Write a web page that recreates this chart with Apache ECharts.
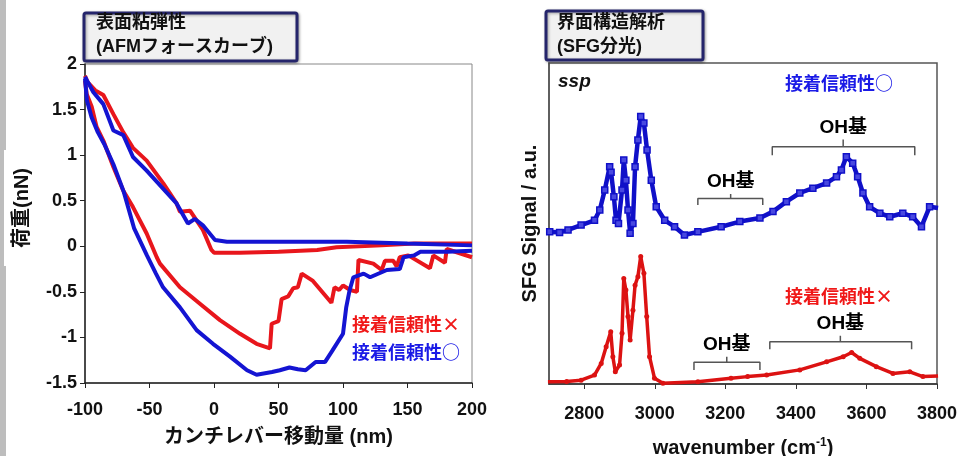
<!DOCTYPE html>
<html><head><meta charset="utf-8">
<script src="https://cdn.jsdelivr.net/npm/echarts@6/dist/echarts.min.js"></script>
<style>html,body{margin:0;padding:0;background:#fff}#c{width:964px;height:456px}</style>
</head><body><div id="c"></div>
<script>
// ---------- Left: AFM force curves (x: nm, y: nN) ----------
const afmXTicks = [-100, -50, 0, 50, 100, 150, 200];
const afmRedApproach = [[-100,1.87],[-98,1.8],[-92,1.71],[-85.8,1.66],[-78,1.45],[-70.3,1.25],[-62.8,1.08],[-52.2,0.94],[-39.3,0.69],[-29,0.47],[-26.4,0.38],[-18.6,0.39],[-8.6,0.18],[-2,-0.04],[0,-0.07],[20,-0.07],[50,-0.06],[80,-0.04],[95,-0.01],[130,0.01],[155,0.03],[200,0.03]];
const afmBlueApproach = [[-100,1.86],[-98.5,1.82],[-93.5,1.69],[-85.8,1.56],[-78,1.27],[-70.3,1.22],[-62.8,0.98],[-52.2,0.83],[-39.3,0.63],[-29,0.47],[-20.2,0.25],[-14.8,0.3],[-8.6,0.23],[0.8,0.07],[10,0.05],[50,0.05],[103,0.05],[150,0.03],[200,0.01]];
const afmRedRetract = [[-100,1.82],[-98.7,1.67],[-94.8,1.53],[-91,1.31],[-85.8,1.16],[-78,0.87],[-70.3,0.61],[-62.8,0.43],[-52.2,0.14],[-44.4,-0.12],[-41.9,-0.19],[-26.4,-0.45],[-10.9,-0.63],[4.6,-0.81],[20.2,-0.96],[33,-1.07],[43.4,-1.12],[44.7,-0.85],[50,-0.82],[52.4,-0.58],[57.5,-0.55],[61.4,-0.46],[65,-0.45],[68,-0.3],[76.7,-0.38],[91,-0.62],[93.4,-0.45],[97,-0.48],[100,-0.43],[105.6,-0.48],[110.8,-0.5],[112,-0.15],[123.5,-0.19],[130,-0.26],[132.5,-0.16],[139,-0.16],[141.6,-0.22],[144,-0.12],[150.6,-0.1],[167.4,-0.24],[170,-0.1],[179,-0.18],[180.4,-0.03],[200,-0.12]];
const afmBlueRetract = [[-100,1.84],[-98.5,1.6],[-95,1.42],[-90,1.25],[-85,1.12],[-78,0.9],[-70,0.6],[-62,0.2],[-52,-0.1],[-45,-0.3],[-39.5,-0.45],[-26.4,-0.67],[-13.5,-0.92],[-0.8,-1.07],[12.4,-1.21],[25.6,-1.36],[33,-1.41],[45,-1.38],[51,-1.36],[58.5,-1.33],[65,-1.35],[71,-1.36],[78.8,-1.27],[86,-1.27],[92,-1.14],[100,-0.96],[102.5,-0.67],[105,-0.49],[108,-0.34],[116,-0.3],[121,-0.34],[134,-0.26],[144,-0.25],[147,-0.12],[155,-0.1],[160,-0.06],[181,-0.06],[200,-0.05]];

// ---------- Right: SFG spectra (x: cm-1, y: a.u., offset) ----------
const sfgXTicks = [2800, 3000, 3200, 3400, 3600, 3800];
const sfgBlue = [[2702,4.74],[2730,4.72],[2754,4.8],[2791,4.95],[2829,5.1],[2844,5.42],[2858,6.04],[2872,6.77],[2876,6.6],[2884,5.83],[2890,5.1],[2897,5.0],[2907,6.04],[2912,6.98],[2918,6.35],[2924,5.42],[2930,4.7],[2938,5.0],[2944,6.77],[2952,7.6],[2960,8.33],[2969,8.13],[2978,7.29],[2990,6.35],[3004,5.52],[3028,5.1],[3056,4.9],[3084,4.64],[3122,4.74],[3188,4.9],[3241,5.06],[3298,5.17],[3335,5.37],[3373,5.68],[3411,5.95],[3448,6.1],[3487,6.26],[3515,6.46],[3529,6.67],[3543,7.08],[3561,6.88],[3575,6.46],[3590,5.95],[3609,5.52],[3638,5.32],[3666,5.21],[3703,5.32],[3731,5.21],[3756,4.9],[3779,5.52],[3803,5.48]];
const sfgRed = [[2697,0.07],[2750,0.08],[2791,0.12],[2829,0.28],[2848,0.64],[2862,1.16],[2875,1.63],[2881,0.85],[2888,0.38],[2900,0.59],[2907,1.58],[2912,3.29],[2918,2.93],[2924,2.1],[2930,1.37],[2938,2.3],[2944,3.08],[2952,3.34],[2960,3.97],[2969,3.45],[2977,2.1],[2985,0.85],[2999,0.18],[3023,0.02],[3122,0.07],[3216,0.18],[3263,0.23],[3317,0.28],[3411,0.44],[3487,0.69],[3534,0.85],[3558,0.98],[3581,0.8],[3628,0.54],[3675,0.33],[3723,0.38],[3760,0.23],[3803,0.25]];

// OH-group bracket annotations: [from, center, to, lineLevel, tipLevel, tickTop]
const bracketBlue1 = [3122, 3215, 3306, 5.78, 5.58, 5.92];
const bracketBlue2 = [3333, 3534, 3737, 7.39, 7.13, 7.62];
const bracketRed1  = [3111, 3204, 3298, 0.68, 0.44, 0.85];
const bracketRed2  = [3326, 3526, 3728, 1.32, 1.08, 1.5];
const bracketLabel = 'OH基';

function bracketPath(b){
  return [[b[0],b[4]],[b[0],b[3]],[b[1],b[3]],[b[1],b[5]],[b[1],b[3]],[b[2],b[3]],[b[2],b[4]]];
}

const RED = '#e8161c', BLUE = '#1414d2', RED2 = '#dc1212', BLUE2 = '#1010c8';
const tickFont = {fontFamily:'Liberation Sans, Arial, sans-serif', fontWeight:'bold', fontSize:18, color:'#111'};
const nameFont = {fontFamily:'Liberation Sans, "Noto Sans CJK JP", sans-serif', fontWeight:'bold', fontSize:20, color:'#111'};
const plain = v => String(v);

const chart = echarts.init(document.getElementById('c'), null, {renderer:'canvas'});
const bracketSeries = [bracketBlue1, bracketBlue2, bracketRed1, bracketRed2].map(b => ({
  type:'line', xAxisIndex:1, yAxisIndex:1, data: bracketPath(b), showSymbol:false, silent:true,
  lineStyle:{color:'#555', width:1.5}, z:3, animation:false
}));
const bracketLabelSeries = {
  type:'scatter', xAxisIndex:1, yAxisIndex:1, symbolSize:1, silent:true, animation:false,
  itemStyle:{color:'rgba(0,0,0,0)'},
  data:[bracketBlue1, bracketBlue2, bracketRed1, bracketRed2].map(b => [b[1], b[5]]),
  label:{show:true, position:'top', distance:2, formatter:bracketLabel, opacity:1, textBorderWidth:0,
    fontFamily:'Liberation Sans, "Noto Sans CJK JP", sans-serif', fontWeight:'bold', fontSize:19, color:'#000'},
  z:6
};

chart.setOption({
  animation:false,
  backgroundColor:'#fff',
  grid:[
    {left:85, right:492, top:64, bottom:73, containLabel:false, outerBoundsMode:'none', show:true, borderColor:'#888', borderWidth:1},
    {left:549, right:27, top:63, bottom:72, containLabel:false, outerBoundsMode:'none', show:true, borderColor:'#555', borderWidth:1.5}
  ],
  xAxis:[
    {gridIndex:0, type:'value', min:-100, max:200, interval:50,
     axisLine:{show:true, onZero:false, lineStyle:{color:'#222', width:1.5}},
     axisTick:{show:true, length:5, lineStyle:{color:'#222'}},
     axisLabel:Object.assign({margin:18, formatter:plain}, tickFont), splitLine:{show:false},
     name:'カンチレバー移動量 (nm)', nameLocation:'middle', nameGap:44, nameTextStyle:nameFont},
    {gridIndex:1, type:'value', min:2700, max:3800,
     axisLine:{show:true, onZero:false, lineStyle:{color:'#333', width:1.5}},
     axisTick:{show:true, length:5, customValues:sfgXTicks, lineStyle:{color:'#333'}},
     axisLabel:Object.assign({margin:21, customValues:sfgXTicks, formatter:plain}, tickFont), splitLine:{show:false},
     name:'{a|wavenumber (cm}{s|-1}{a|)}', nameLocation:'middle', nameGap:53,
     nameTextStyle:{rich:{a:nameFont, s:{fontFamily:'Liberation Sans, sans-serif', fontWeight:'bold', fontSize:12, color:'#111', padding:[0,0,10,0]}}}}
  ],
  yAxis:[
    {gridIndex:0, type:'value', min:-1.5, max:2, interval:0.5,
     axisLine:{show:true, onZero:false, lineStyle:{color:'#222', width:1.5}},
     axisTick:{show:true, length:5, lineStyle:{color:'#222'}},
     axisLabel:Object.assign({margin:8, formatter:plain}, tickFont), splitLine:{show:false}},
    {gridIndex:1, type:'value', min:0, max:10,
     axisLine:{show:true, lineStyle:{color:'#555', width:1.5}},
     axisTick:{show:false}, axisLabel:{show:false}, splitLine:{show:false},
     name:'SFG Signal / a.u.', nameLocation:'middle', nameGap:9, nameRotate:90, nameTextStyle:nameFont}
  ],
  series:[
    {type:'line', xAxisIndex:0, yAxisIndex:0, data:afmRedApproach, showSymbol:false, lineStyle:{color:RED, width:4}, z:4},
    {type:'line', xAxisIndex:0, yAxisIndex:0, data:afmRedRetract, showSymbol:false, lineStyle:{color:RED, width:4}, z:4},
    {type:'line', xAxisIndex:0, yAxisIndex:0, data:afmBlueApproach, showSymbol:false, lineStyle:{color:BLUE, width:4}, z:5},
    {type:'line', xAxisIndex:0, yAxisIndex:0, data:afmBlueRetract, showSymbol:false, lineStyle:{color:BLUE, width:4}, z:5},
    {type:'line', xAxisIndex:1, yAxisIndex:1, data:sfgBlue, symbol:'rect', symbolSize:6, showSymbol:true,
     itemStyle:{color:'#4848e0', borderColor:BLUE2, borderWidth:1.5}, lineStyle:{color:BLUE2, width:4.5}, z:4},
    {type:'line', xAxisIndex:1, yAxisIndex:1, data:sfgRed, symbol:'circle', symbolSize:5, showSymbol:true,
     itemStyle:{color:RED2}, lineStyle:{color:RED2, width:3.5}, z:4},
    ...bracketSeries,
    bracketLabelSeries
  ],
  graphic:[
    {type:'rect', left:0, top:0, shape:{width:6, height:456}, style:{fill:'#bdbdbd'}, z:0},
    {type:'rect', shape:{x:4, y:150, width:33, height:116}, style:{fill:'#fff'}, z:1},
    {type:'text', x:22, y:208, rotation:Math.PI/2, style:{text:'荷重(nN)', fill:'#111', align:'center', verticalAlign:'middle', font:'bold 20px "Liberation Sans", "Noto Sans CJK JP", sans-serif'}, z:2},
    {type:'rect', shape:{x:84, y:13, width:213, height:48, r:2}, style:{fill:'#f1f1f1', stroke:'#25256b', lineWidth:3, shadowBlur:3, shadowColor:'rgba(0,0,0,0.35)', shadowOffsetX:1, shadowOffsetY:1}, z:10},
    {type:'text', x:96, y:11, style:{text:'表面粘弾性\n(AFMフォースカーブ)', fill:'#111', font:'bold 18px "Liberation Sans", "Noto Sans CJK JP", sans-serif', lineHeight:24}, z:11},
    {type:'rect', shape:{x:546, y:11, width:157, height:49, r:2}, style:{fill:'#f1f1f1', stroke:'#25256b', lineWidth:3, shadowBlur:3, shadowColor:'rgba(0,0,0,0.35)', shadowOffsetX:1, shadowOffsetY:1}, z:10},
    {type:'text', x:557, y:11, style:{text:'界面構造解析\n(SFG分光)', fill:'#111', font:'bold 18px "Liberation Sans", "Noto Sans CJK JP", sans-serif', lineHeight:24}, z:11},
    {type:'text', x:558, y:72, style:{text:'ssp', fill:'#111', font:'italic bold 19px "Liberation Sans", sans-serif'}, z:11},
    {type:'text', x:785, y:74, style:{text:'接着信頼性○', fill:'#1a1ae6', font:'bold 18px "Noto Sans CJK JP", sans-serif'}, z:11},
    {type:'text', x:785, y:287, style:{text:'接着信頼性×', fill:'#f01818', font:'bold 18px "Noto Sans CJK JP", sans-serif'}, z:11},
    {type:'text', x:352, y:315, style:{text:'接着信頼性×', fill:'#f01818', font:'bold 18px "Noto Sans CJK JP", sans-serif'}, z:11},
    {type:'text', x:352, y:343, style:{text:'接着信頼性○', fill:'#1a1ae6', font:'bold 18px "Noto Sans CJK JP", sans-serif'}, z:11}
  ]
});
</script>
</body></html>
